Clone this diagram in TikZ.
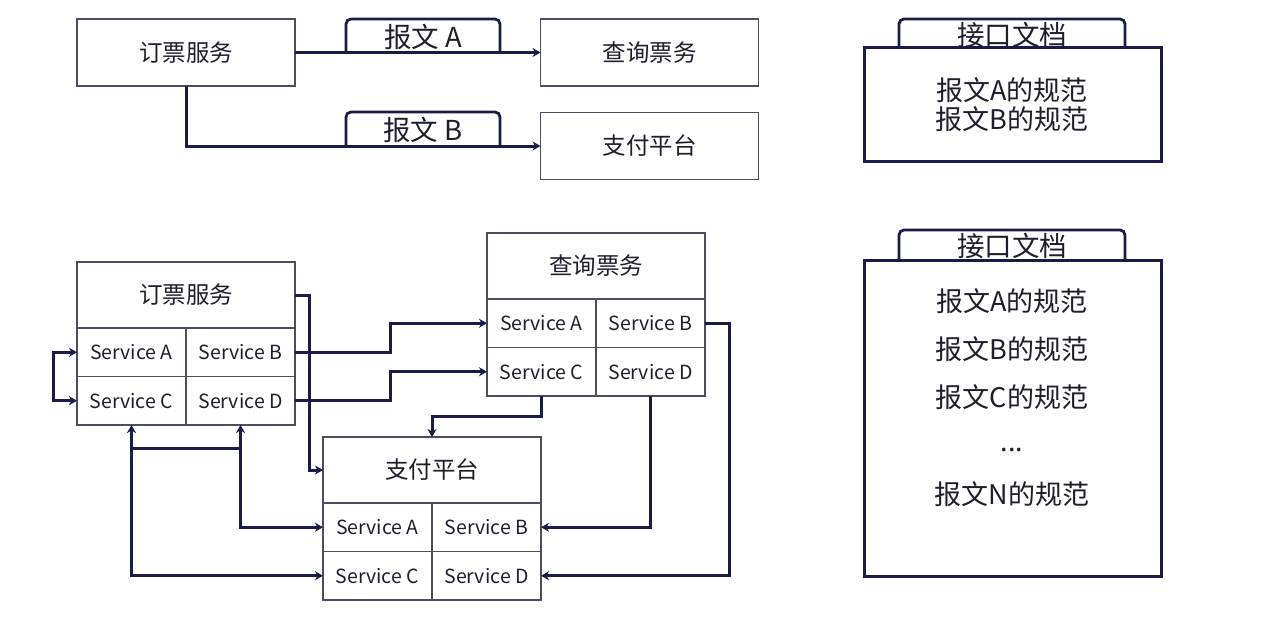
\documentclass[tikz,border=0pt]{standalone}
\usepackage{fontspec}
\setmainfont{Noto Sans CJK SC}
\usetikzlibrary{arrows.meta}
\definecolor{navy}{RGB}{24,28,70}
\definecolor{boxline}{RGB}{75,78,95}
\definecolor{txt}{RGB}{30,30,45}
\tikzset{
  box/.style={draw=boxline, line width=1.5pt, fill=white, inner sep=0pt, outer sep=0pt, text=txt},
  titlebox/.style={box, minimum width=218pt, minimum height=66pt, font=\fontsize{23.5}{27}\selectfont},
  topbox/.style={box, minimum width=218pt, minimum height=67pt, font=\fontsize{23.5}{27}\selectfont},
  cell/.style={box, minimum width=109pt, minimum height=48.5pt, font=\fontsize{19.5}{22}\selectfont},
  conn/.style={draw=navy, line width=3pt, -{Stealth[length=8pt,width=9pt]}},
  biconn/.style={draw=navy, line width=3pt, {Stealth[length=8pt,width=9pt]}-{Stealth[length=8pt,width=9pt]}},
  plain/.style={draw=navy, line width=3pt},
  tabline/.style={draw=navy, line width=2.8pt, rounded corners=5pt},
  folder/.style={draw=navy, line width=3pt, fill=white},
  tabtext/.style={text=txt, inner sep=0pt, font=\fontsize{27.5}{30}\selectfont},
  spec/.style={text=txt, inner sep=0pt, font=\fontsize{27}{30}\selectfont},
}
\begin{document}
\begin{tikzpicture}[x=1pt,y=-1pt]
\useasboundingbox[fill=white] (0,0) rectangle (1280,626);

% ---------- top part ----------
\node[topbox] (T1) at (186,52.5) {订票服务};
\node[topbox] (T2) at (649.5,52.5) {查询票务};
\node[topbox] (T3) at (649.5,146) {支付平台};
\draw[tabline] (346,52.5) |- (500,19) -- (500,52.5);
\node[tabtext] (tA) at (423,37) {报文 A};
\draw[tabline] (346,146) |- (500,112) -- (500,146);
\node[tabtext] (tB) at (423,130) {报文 B};
\draw[conn] (T1.east) -- (T2.west);
\draw[conn] (T1.south) |- (T3.west);

% ---------- bottom part ----------
% 订票服务
\node[titlebox] (BK-t) at (186,295) {订票服务};
\node[cell] (BK-a) at (131.5,352.25) {Service A};
\node[cell] (BK-b) at (240.5,352.25) {Service B};
\node[cell] (BK-c) at (131.5,400.75) {Service C};
\node[cell] (BK-d) at (240.5,400.75) {Service D};
% 查询票务
\node[titlebox] (CX-t) at (596,266) {查询票务};
\node[cell] (CX-a) at (541.5,323.25) {Service A};
\node[cell] (CX-b) at (650.5,323.25) {Service B};
\node[cell] (CX-c) at (541.5,371.75) {Service C};
\node[cell] (CX-d) at (650.5,371.75) {Service D};
% 支付平台
\node[titlebox] (ZF-t) at (432,470) {支付平台};
\node[cell] (ZF-a) at (377.5,527.25) {Service A};
\node[cell] (ZF-b) at (486.5,527.25) {Service B};
\node[cell] (ZF-c) at (377.5,575.75) {Service C};
\node[cell] (ZF-d) at (486.5,575.75) {Service D};

% connectors
\draw[biconn] (BK-a.west) -- ++(-24,0) |- (BK-c.west);
\draw[conn] (BK-t.east) -- ++(14,0) |- (ZF-t.west);
\draw[conn] (BK-b.east) -- ++(95,0) |- (CX-a.west);
\draw[conn] (BK-d.east) -- ++(95,0) |- (CX-c.west);
\draw[conn] (CX-c.south) -- ++(0,20) -| (ZF-t.north);
\draw[conn] (CX-d.south) |- (ZF-b.east);
\draw[conn] (CX-b.east) -- ++(24,0) |- (ZF-d.east);
\draw[biconn] (BK-d.south) |- (ZF-a.west);
\draw[biconn] (BK-c.south) |- (ZF-c.west);
\coordinate (j1) at (131.5,448);
\coordinate (j2) at (240.5,448);
\draw[plain] (j1) -- (j2);

% ---------- folders ----------
\draw[tabline] (899,48) |- (1125,19) -- (1125,48);
\draw[folder] (864,48) rectangle (1161,161);
\node[tabtext] (F1t) at (1012,35) {接口文档};
\node[spec] (F1a) at (1012,90) {报文A的规范};
\node[spec] (F1b) at (1012,119) {报文B的规范};

\draw[tabline] (899,260) |- (1125,230) -- (1125,260);
\draw[folder] (864,260) rectangle (1161,576);
\node[tabtext] (F2t) at (1012,246) {接口文档};
\node[spec] (F2a) at (1012,301) {报文A的规范};
\node[spec] (F2b) at (1012,349) {报文B的规范};
\node[spec] (F2c) at (1012,397) {报文C的规范};
\node[spec] (F2d) at (1012,450) {...};
\node[spec] (F2n) at (1012,494) {报文N的规范};
\end{tikzpicture}
\end{document}
